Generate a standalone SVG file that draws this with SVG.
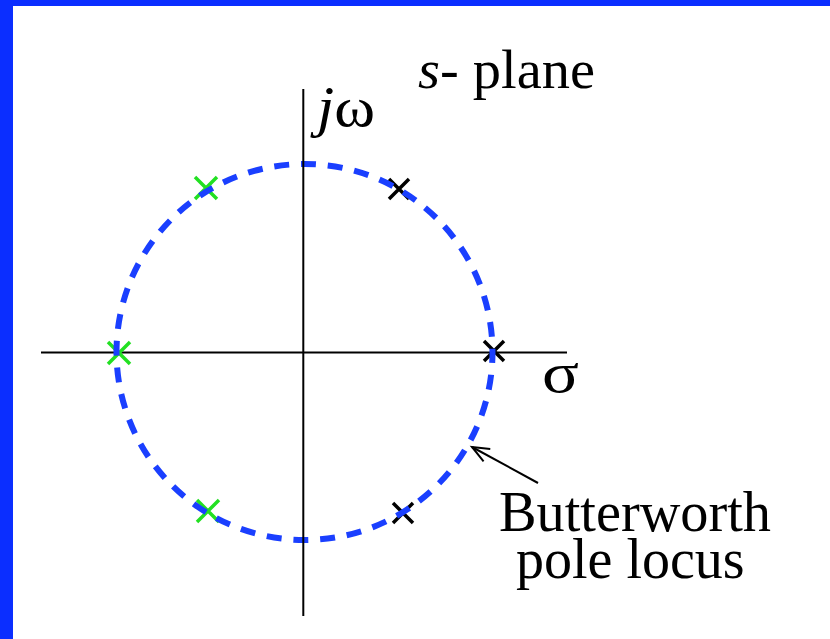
<svg xmlns="http://www.w3.org/2000/svg" width="830" height="639" viewBox="0 0 830 639">
<defs>
<style>
.axis{stroke:#000;stroke-width:2;fill:none}
.locus{stroke:#1a3fff;stroke-width:6;fill:none;stroke-dasharray:15 11.85;stroke-dashoffset:4}
.pz{stroke-width:3.5;fill:none}
.green{stroke:#22e022}
.black{stroke:#000}
.lbl{font-family:"Liberation Serif","Times New Roman",serif;fill:#000}
.lead{stroke:#000;stroke-width:2;fill:none}
</style>
<marker id="openArrow" markerUnits="userSpaceOnUse" markerWidth="22" markerHeight="18" refX="18" refY="8" orient="auto">
<path d="M1,1 L18,8 L1,15" fill="none" stroke="#000" stroke-width="2"/>
</marker>
</defs>
<rect x="0" y="0" width="830" height="639" fill="#fff"/>
<rect x="0" y="0" width="830" height="6" fill="#0b2eff"/>
<rect x="0" y="0" width="13" height="639" fill="#0b2eff"/>

<line class="axis" x1="41" y1="352.5" x2="567" y2="352.5"/>

<g id="pole-left" class="pz green"><path d="M108,342 L130,364 M130,342 L108,364"/></g>
<g id="pole-upper-left" class="pz green"><path d="M195,177 L217,199 M217,177 L195,199"/></g>
<g id="pole-lower-left" class="pz green"><path d="M197,500 L219,522 M219,500 L197,522"/></g>
<g id="pole-upper-right" class="pz black"><path d="M389,179 L409,199 M409,179 L389,199"/></g>
<g id="pole-right" class="pz black"><path d="M484,341 L504,361 M504,341 L484,361"/></g>
<g id="pole-lower-right" class="pz black"><path d="M393,503 L413,523 M413,503 L393,523"/></g>

<g id="locus"><circle class="locus" cx="304.5" cy="352" r="188"/></g>

<line class="axis" x1="303.3" y1="89" x2="303.3" y2="616"/>

<g id="label-jw"><text class="lbl" x="317" y="126" font-size="56" textLength="58" lengthAdjust="spacingAndGlyphs"><tspan font-style="italic">j</tspan>ω</text></g>
<g id="label-sigma"><text class="lbl" x="542" y="392" font-size="57" textLength="37" lengthAdjust="spacingAndGlyphs">σ</text></g>
<g id="label-splane"><text class="lbl" x="418" y="88" font-size="55" textLength="177" lengthAdjust="spacingAndGlyphs"><tspan font-style="italic">s</tspan>- plane</text></g>
<g id="label-locus">
<text class="lbl" x="499" y="531" font-size="56" textLength="272" lengthAdjust="spacingAndGlyphs">Butterworth</text>
<text class="lbl" x="516" y="578" font-size="56">pole locus</text>
</g>

<g id="connectors">
<line class="lead" x1="538" y1="483" x2="472" y2="447" marker-end="url(#openArrow)"/>
</g>
</svg>
